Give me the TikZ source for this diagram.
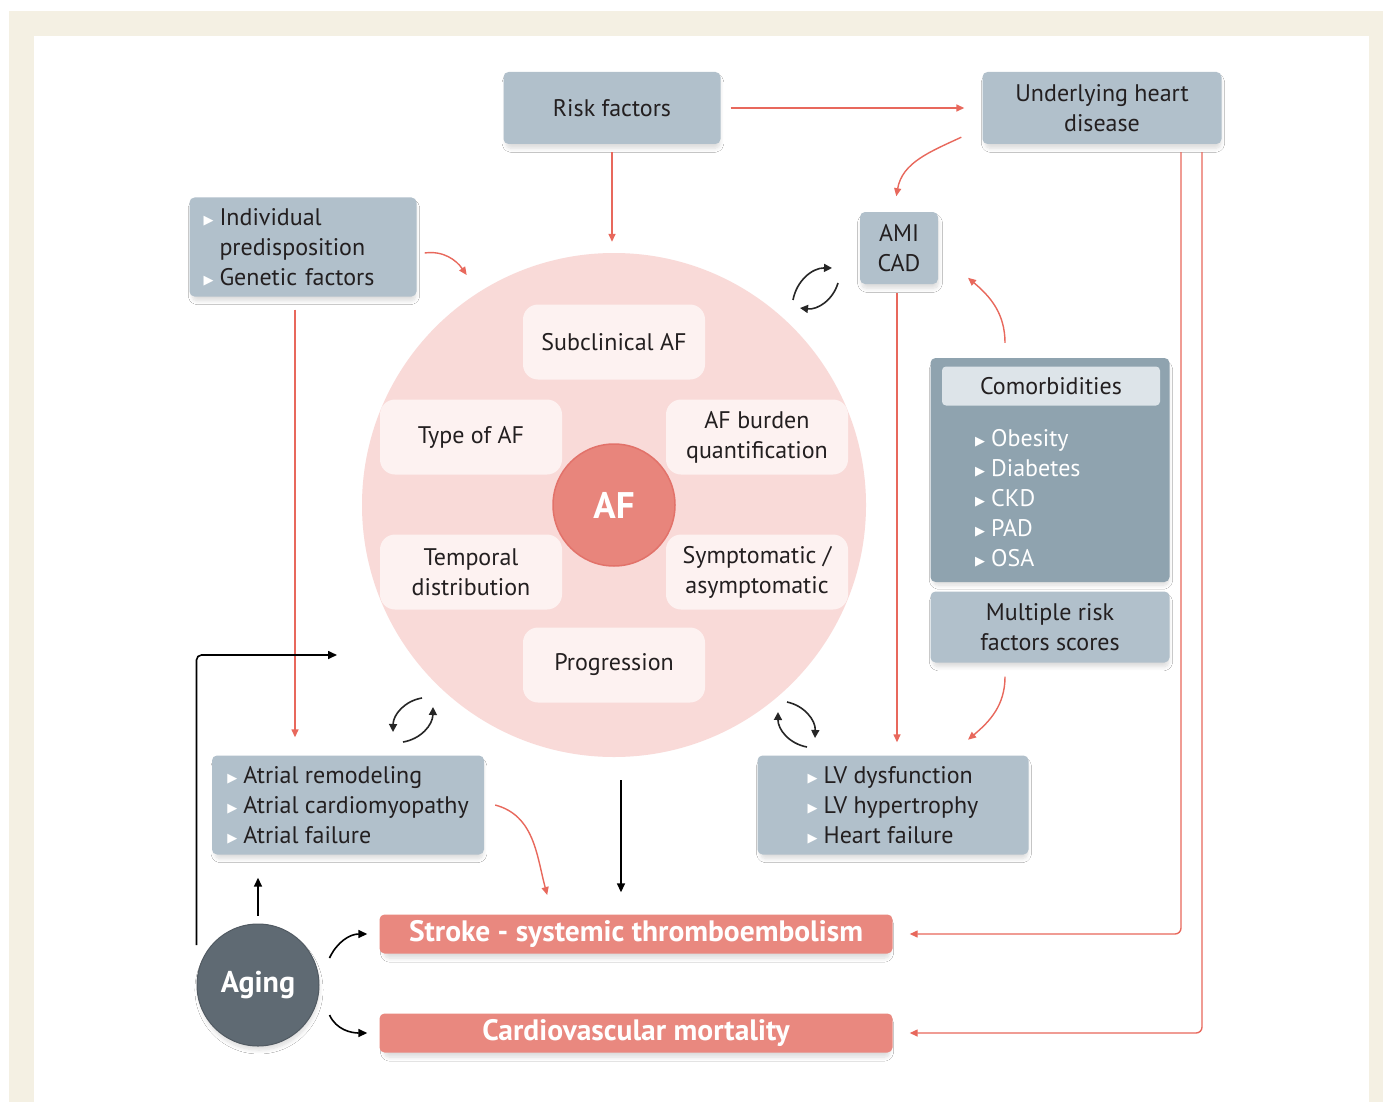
\documentclass[tikz,border=0pt]{standalone}
\usepackage{fontspec}
\setmainfont{PT Sans}
\newfontfamily\symfont{DejaVu Sans}
\usetikzlibrary{arrows.meta,shadows.blur}

\definecolor{cream}{HTML}{F4F0E3}
\definecolor{boxgray}{HTML}{B1C0CB}
\definecolor{comgray}{HTML}{8FA3AF}
\definecolor{titlegray}{HTML}{DDE4E9}
\definecolor{linered}{HTML}{E8685C}
\definecolor{ringpink}{HTML}{F9DAD8}
\definecolor{cellpink}{HTML}{FDF2F1}
\definecolor{afred}{HTML}{E8857C}
\definecolor{afedge}{HTML}{E2726A}
\definecolor{outred}{HTML}{E9887F}
\definecolor{agegray}{HTML}{5F6A73}
\definecolor{txtdark}{HTML}{231F20}

\newcommand{\bul}{\raisebox{1pt}{\symfont\fontsize{13}{13}\selectfont\textcolor{white}{▶}}\hspace{6pt}}
\newcommand{\nobul}{\hphantom{\symfont\fontsize{13}{13}\selectfont ▶}\hspace{6pt}}

\tikzset{
  shd/.style={blur shadow={shadow xshift=1pt, shadow yshift=-5pt, shadow opacity=14,
    shadow blur radius=4pt, shadow blur steps=8, shadow scale=0.985}},
  box/.style={shd, fill=boxgray, rounded corners=5pt, inner sep=0pt, align=center},
  cell/.style={fill=cellpink, rounded corners=15pt, minimum width=182pt,
    minimum height=75pt, inner sep=0pt, align=center},
  outcome/.style={shd, fill=outred, rounded corners=5pt, minimum width=513pt,
    minimum height=39pt, inner sep=0pt, text=white,
    font=\fontsize{29.5}{30}\selectfont\bfseries},
  redarr/.style={draw=linered, line width=1.4pt, -{Triangle[length=8pt,width=7pt]}},
  blackarr/.style={draw=black, line width=1.6pt, -{Triangle[length=9pt,width=8pt]}},
  swaparr/.style={draw=black!85, line width=1.6pt, -{Triangle[length=8pt,width=8pt]}}
}

\begin{document}
\begin{tikzpicture}[x=1pt,y=-1pt, font=\fontsize{24}{30}\selectfont, text=txtdark]

% ===== Frame =====
\useasboundingbox (0,0) rectangle (1383,1102);
\fill[cream] (9,11) rectangle (1383,1102);
\fill[white] (34,36) rectangle (1369,1102);

% ===== AF circle =====
\node[circle, fill=ringpink, minimum size=504pt, inner sep=0pt] (circ) at (614,505) {};
\node[cell] (subclin) at (614,342) {Subclinical AF};
\node[cell] (type) at (471,437) {Type of AF};
\node[cell] (burden) at (757,437) {AF burden\\quantification};
\node[cell] (temporal) at (471,572) {Temporal\\distribution};
\node[cell] (sympt) at (757,572) {Symptomatic /\\asymptomatic};
\node[cell] (progr) at (614,665) {Progression};
\node[circle, fill=afred, draw=afedge, line width=1.5pt, minimum size=122pt,
  text=white, font=\fontsize{37}{37}\selectfont\bfseries] (af) at (614,505) {AF};

% ===== Boxes =====
\node[box, minimum width=217pt, minimum height=72pt] (risk) at (612,108) {Risk factors};
\node[box, minimum width=239pt, minimum height=72pt] (uhd) at (1102,108) {Underlying heart\\disease};
\node[box, minimum width=227pt, minimum height=99pt, inner xsep=14pt,
  text width=199pt, align=left] (indiv) at (303,247)
  {\bul Individual\\\nobul predisposition\\\bul Genetic factors};
\node[box, minimum width=78pt, minimum height=72pt] (ami) at (899,248) {AMI\\CAD};

% Comorbidities
\node[box, fill=comgray, minimum width=239pt, minimum height=224pt] (comorb) at (1050,470) {};
\node[fill=titlegray, rounded corners=4pt, minimum width=218pt, minimum height=39pt,
  inner sep=0pt] (comorbtitle) at (1051,386) {Comorbidities};
\node[anchor=west, align=left, text=white, inner sep=0pt] (comorblist) at (975,498)
  {\bul Obesity\\\bul Diabetes\\\bul CKD\\\bul PAD\\\bul OSA};
\node[box, minimum width=239pt, minimum height=71pt] (scores) at (1050,627)
  {Multiple risk\\factors scores};

\node[box, minimum width=272pt, minimum height=99pt, align=left] (atrial) at (348,805)
  {\bul Atrial remodeling\\\bul Atrial cardiomyopathy\\\bul Atrial failure};
\node[box, minimum width=271pt, minimum height=99pt, align=left] (lv) at (893,805)
  {\bul LV dysfunction\\\bul LV hypertrophy\\\bul Heart failure};

% ===== Outcomes =====
\node[outcome] (stroke) at (636,934) {Stroke - systemic thromboembolism};
\node[outcome] (mort) at (636,1033) {Cardiovascular mortality};
\node[shd, circle, fill=agegray, draw=agegray!85!black, line width=1pt, minimum size=122pt,
  text=white, font=\fontsize{30}{30}\selectfont\bfseries] (aging) at (258,985) {Aging};

% ===== Red connectors =====
\draw[redarr] ([xshift=10pt]risk.east) -- ([xshift=-18pt]uhd.west);
\draw[redarr] ([yshift=-8pt]risk.south) -- ([yshift=11pt]risk.south |- circ.north);
\draw[redarr] (indiv.east) ++(8,6) to[out=8, in=125] ++(42,22);
\draw[redarr] (uhd.south west) ++(-21,-7) to[out=205, in=80] ++(-65,59);
\draw[redarr] (indiv.south) ++(-8,13) coordinate (indivtop) -- ([yshift=18pt]indivtop |- atrial.north);
\draw[redarr] ([xshift=-2pt,yshift=-9pt]ami.south) -- ([xshift=-2pt,yshift=13pt]ami.south |- lv.north);
\draw[redarr] (comorb.north) ++(-45,-15) to[out=90, in=-40] ++(-37,-65);
\draw[redarr] (scores.south) ++(-45,14) to[out=-90, in=40] ++(-37,63);
\draw[redarr] (atrial.east) ++(11,0) to[out=-15, in=105] ++(52,90);
\draw[redarr, rounded corners=6pt] ([xshift=79pt,yshift=-8pt]uhd.south) |- ([xshift=17pt]stroke.east);
\draw[redarr, rounded corners=6pt] ([xshift=100pt,yshift=-8pt]uhd.south) |- ([xshift=17pt]mort.east);

% ===== Black connectors =====
\coordinate (agetip) at (337,655);
\draw[blackarr, rounded corners=5pt] ([yshift=40pt]aging.west) |- (agetip);
\draw[blackarr] ([yshift=8pt]aging.north) -- ([yshift=-23pt]aging.north |- atrial.south);
\draw[blackarr] ([xshift=7pt,yshift=-23pt]circ.south) -- ([xshift=7pt,yshift=22pt]circ.south |- stroke.north);
\draw[blackarr] (aging.east) ++(10,-27) to[out=65, in=180] ([xshift=-12pt]stroke.west);
\draw[blackarr] (aging.east) ++(10,30) to[out=-65, in=180] ([xshift=-12pt]mort.west);

% ===== Swap arrows =====
\draw[swaparr] (793,300) to[bend left=40] (832,268);
\draw[swaparr] (838,283) to[bend left=40] (800,308);
\draw[swaparr] (422,698) to[bend right=40] (393,732);
\draw[swaparr] (403,742) to[bend right=40] (433,707);
\draw[swaparr] (807,747) to[bend left=40] (778,712);
\draw[swaparr] (787,702) to[bend left=40] (815,738);

\end{tikzpicture}
\end{document}
